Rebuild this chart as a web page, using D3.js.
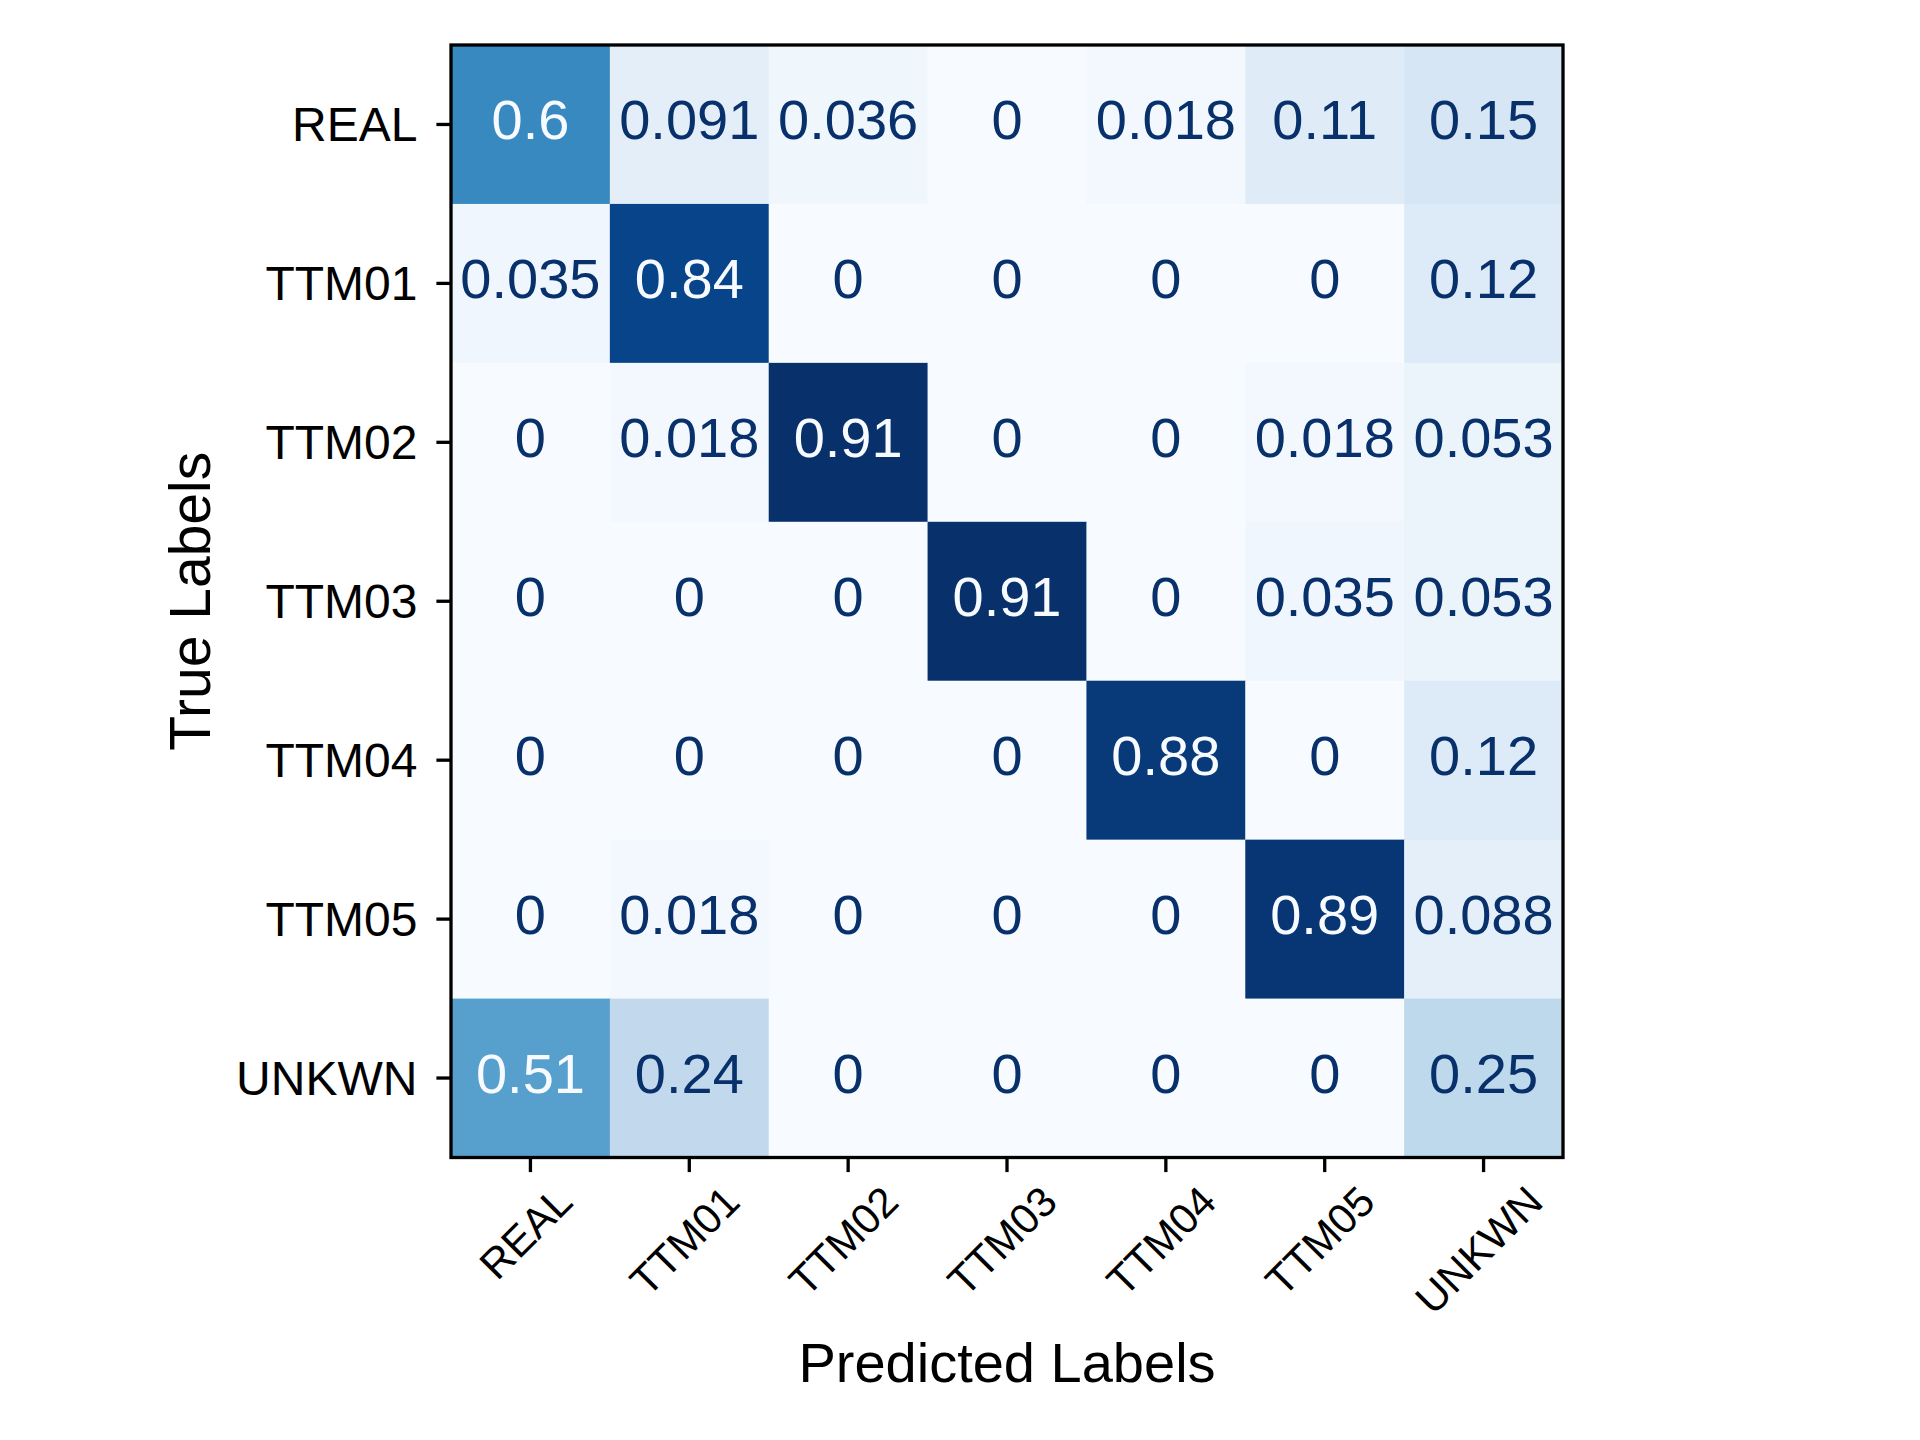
<!DOCTYPE html>
<html>
<head>
<meta charset="utf-8">
<script src="https://cdn.jsdelivr.net/npm/d3@7"></script>
<style>
  html, body { margin: 0; padding: 0; background: #fff; }
  text { font-family: "Liberation Sans", Arial, sans-serif; }
</style>
</head>
<body>
<svg class="cm" width="1920" height="1440"></svg>
<script>
// class labels (rows = true, columns = predicted)
const labels = ["REAL", "TTM01", "TTM02", "TTM03", "TTM04", "TTM05", "UNKWN"];

// normalized confusion matrix, one array per true label
const rowREAL  = [0.6,   0.091, 0.036, 0,    0.018, 0.11,  0.15];
const rowTTM01 = [0.035, 0.84,  0,     0,    0,     0,     0.12];
const rowTTM02 = [0,     0.018, 0.91,  0,    0,     0.018, 0.053];
const rowTTM03 = [0,     0,     0,     0.91, 0,     0.035, 0.053];
const rowTTM04 = [0,     0,     0,     0,    0.88,  0,     0.12];
const rowTTM05 = [0,     0.018, 0,     0,    0,     0.89,  0.088];
const rowUNKWN = [0.51,  0.24,  0,     0,    0,     0,     0.25];
const matrix = [rowREAL, rowTTM01, rowTTM02, rowTTM03, rowTTM04, rowTTM05, rowUNKWN];

// matplotlib "Blues" stops
const blues = ["#f7fbff", "#deebf7", "#c6dbef", "#9ecae1", "#6baed6",
               "#4292c6", "#2171b5", "#08519c", "#08306b"];

const cells = [];
matrix.forEach((row, i) => row.forEach((v, j) => cells.push({t: labels[i], p: labels[j], v: v})));

const plotLeft = 451, plotRight = 1563, plotTop = 45, plotBottom = 1157.5;

const x = d3.scaleBand().domain(labels).range([plotLeft, plotRight]);
const y = d3.scaleBand().domain(labels).range([plotTop, plotBottom]);

const vmin = d3.min(cells, d => d.v);
const vmax = d3.max(cells, d => d.v);
const color = d3.scaleLinear()
    .domain(blues.map((c, k) => vmin + (vmax - vmin) * k / (blues.length - 1)))
    .range(blues)
    .interpolate(d3.interpolateRgb);
const thresh = (vmin + vmax) / 2;

const svg = d3.select("svg.cm");

svg.append("g")
    .selectAll("rect")
    .data(cells)
    .join("rect")
    .attr("x", d => x(d.p))
    .attr("y", d => y(d.t))
    .attr("width", x.bandwidth() + 0.5)
    .attr("height", y.bandwidth() + 0.5)
    .attr("fill", d => color(d.v));

svg.append("g")
    .selectAll("text")
    .data(cells)
    .join("text")
    .attr("x", d => x(d.p) + x.bandwidth() / 2)
    .attr("y", d => y(d.t) + y.bandwidth() / 2 + 15)
    .attr("text-anchor", "middle")
    .attr("font-size", 56)
    .attr("fill", d => d.v < thresh ? blues[8] : blues[0])
    .text(d => String(d.v));

// y axis
const yAxis = svg.append("g")
    .attr("transform", `translate(${plotLeft},0)`)
    .call(d3.axisLeft(y).tickSize(14.6).tickPadding(19));
yAxis.select(".domain").remove();
yAxis.selectAll(".tick line").attr("stroke", "#000").attr("stroke-width", 3.3);
yAxis.selectAll(".tick text")
    .attr("font-size", 48)
    .attr("fill", "#000")
    .attr("dy", null)
    .attr("y", 17);

// x axis
const xAxis = svg.append("g")
    .attr("transform", `translate(0,${plotBottom})`)
    .call(d3.axisBottom(x).tickSize(14.6));
xAxis.select(".domain").remove();
xAxis.selectAll(".tick line").attr("stroke", "#000").attr("stroke-width", 3.3);
xAxis.selectAll(".tick text").remove();

const capX = 30;
const xl = svg.append("g")
    .selectAll("text")
    .data(labels)
    .join("text")
    .attr("font-size", 42)
    .attr("text-anchor", "middle")
    .attr("fill", "#000")
    .attr("y", capX / 2)
    .text(d => d);
xl.attr("transform", function(d) {
    const w = this.getComputedTextLength();
    const cx = x(d) + x.bandwidth() / 2 - 5;
    const cy = 1183 + (w + capX) / (2 * Math.SQRT2);
    return `translate(${cx},${cy}) rotate(-45)`;
});

// frame
svg.append("rect")
    .attr("x", plotLeft)
    .attr("y", plotTop)
    .attr("width", plotRight - plotLeft)
    .attr("height", plotBottom - plotTop)
    .attr("fill", "none")
    .attr("stroke", "#000")
    .attr("stroke-width", 3.3);

// axis titles
svg.append("text")
    .attr("x", (plotLeft + plotRight) / 2)
    .attr("y", 1382)
    .attr("text-anchor", "middle")
    .attr("font-size", 56)
    .attr("fill", "#000")
    .text("Predicted Labels");

svg.append("text")
    .attr("transform", `translate(210,${(plotTop + plotBottom) / 2}) rotate(-90)`)
    .attr("text-anchor", "middle")
    .attr("font-size", 57)
    .attr("fill", "#000")
    .text("True Labels");
</script>
</body>
</html>
